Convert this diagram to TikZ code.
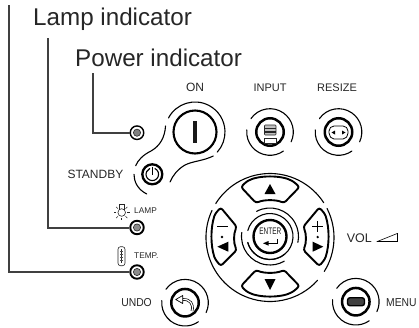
\documentclass[tikz,border=0pt]{standalone}
\usepackage{fontspec}
\setmainfont{Liberation Sans}
\newfontfamily\narrowf{Liberation Sans}[FakeStretch=0.9]
\newfontfamily\enterf{Liberation Sans}[FakeStretch=0.68]
\newcommand\ringarc[5]{\draw[arc1] (#1,#2) ++(#4:#3pt) arc[start angle=#4,end angle=#5,radius=#3pt];}
\newcommand\butarcs[2]{\ringarc{#1}{#2}{23.3}{145}{-25}\ringarc{#1}{#2}{23.3}{175}{305}}
\tikzset{
 x=1pt,y=-1pt,
 lead/.style={draw=black!75,line width=2pt,line join=miter},
 led/.style={circle,draw=black,line width=1.9pt,fill=white,minimum size=13.5pt,inner sep=0pt},
 big/.style={font=\fontsize{24.2}{25}\selectfont,inner sep=0pt,anchor=base west,text=black!85},
 small/.style={font=\fontsize{11.5}{12}\narrowf,inner sep=0pt,text=black!85},
 tiny/.style={font=\fontsize{8.3}{9}\selectfont,inner sep=0pt,text=black!85},
 arc1/.style={draw=black,line width=1.1pt,line cap=round},
 ring/.style={circle,draw=black,line width=2.1pt,inner sep=0pt},
 pad/.style={draw=black,line width=1.9pt,fill=white,rounded corners=2.5pt},
 thin1/.style={draw=black!85,line width=0.6pt},
}
\begin{document}
\begin{tikzpicture}
\useasboundingbox (0,0) rectangle (419,327);
% texts
\node[big] (lamptxt) at (33,25) {Lamp indicator};
\node[big] (powertxt) at (75,66.5) {Power indicator};
\node[small,font=\fontsize{12}{13}\selectfont] (ontxt) at (195,87.5) {ON};
\node[small,font=\fontsize{11}{12}\selectfont] (inputtxt) at (270,87.5) {INPUT};
\node[small,font=\fontsize{11}{12}\selectfont] (resizetxt) at (337,87.5) {RESIZE};
\node[small,anchor=east,font=\fontsize{12}{13}\selectfont] (standbytxt) at (123.5,174) {STANDBY};
\node[tiny,anchor=west] (lamplbl) at (134,210.7) {LAMP};
\node[tiny,anchor=west] (templbl) at (134,256) {TEMP.};
\node[small,anchor=east] (undotxt) at (152,302.7) {UNDO};
\node[small,anchor=west,font=\fontsize{12.5}{13}\selectfont] (voltxt) at (346.7,238.3) {VOL};
\node[small,anchor=west] (menutxt) at (386,302.7) {MENU};
% LEDs
\node[led,line width=1.4pt] (ledp) at (137,132.7) {};
\node[led] (ledl) at (137,227.5) {};
\node[led] (ledt) at (137,272) {};
\foreach \n/\g in {ledp/50,ledl/45,ledt/45}{\fill[black!\g,draw=black!85,line width=0.6pt] (\n.center) circle[radius=3.6pt];}
\coordinate (p0) at (93,73);
\coordinate (l0) at (48,38);
\coordinate (t0) at (9,5);
\draw[lead] (p0) |- (ledp);
\draw[lead] (l0) |- (ledl);
\draw[lead] (t0) |- (ledt);
% lamp icon
\draw[thin1,fill=white] (121.7,212.5) circle[radius=3.8pt];
\draw[thin1] (119.5,209.5) -- (119.5,204.5) -- (124,204.5) -- (124,209.5);
\foreach \a in {0,45,135,180,225,270,315}{\draw[thin1] (121.7,212.5) ++(\a:5.5pt) -- ++(\a:2.4pt);}
% thermometer icon
\draw[thin1,rounded corners=2.5pt] (118,246.7) rectangle (125,265.7);
\draw[thin1] (121.5,249) -- (121.5,263);
\foreach \yy in {251,254,257,260}{\draw[draw=black!70,line width=0.3pt] (120.3,\yy) -- (122.7,\yy);}
% power / standby outline
\node[ring,minimum size=43pt] (onbtn) at (195,132) {};
\node[fill=black!90,minimum width=3.6pt,minimum height=22pt,inner sep=0pt] (onbar) at (195,132) {};
\ringarc{195}{132}{30}{152}{-42}
\draw[arc1] (213.3,156) .. controls (203,161) and (193,161) .. (185,165) .. controls (178,169) and (173,175) .. (170,182);
\draw[arc1] (165.5,126) .. controls (165,137) and (160,146) .. (151,151) .. controls (143,155) and (138,160) .. (135.7,165.7);
\draw[arc1] (134,174.3) .. controls (134,181) and (137,189) .. (146.7,194);
% standby
\node[ring,minimum size=20pt,line width=2.3pt] (stbtn) at (152.3,174.3) {};
\ringarc{152.3}{174.3}{6.3}{65}{-245}
\draw[draw=black,line width=1.1pt] (152.3,166.5) -- (152.3,175);
% input
\node[ring,minimum size=27.5pt,line width=2.5pt] (inbtn) at (270,132) {};
\butarcs{270}{132}
\draw[thin1,fill=black!25,rounded corners=0.8pt] (264.5,125) rectangle (276,135);
\fill[black!85] (264.5,127.5) rectangle (276,129);
\fill[black!85] (264.5,131) rectangle (276,132.5);
\draw[thin1,fill=white] (264.5,138) rectangle (276,143);
% resize
\node[ring,minimum size=27.5pt,line width=2.5pt] (rsbtn) at (338.5,132) {};
\butarcs{338.5}{132}
\draw[draw=black,line width=0.8pt,rounded corners=2pt] (329,129) -- (332,126) -- (345,126) -- (348,129) -- (348,135) -- (345,139) -- (332,139) -- (329,135) -- cycle;
\fill[black] (331.5,132.5) -- (335,130.5) -- (335,134.5) -- cycle;
\fill[black] (345.5,132.5) -- (342,130.5) -- (342,134.5) -- cycle;
% cross pad
\ringarc{270}{237.5}{64}{148}{33}
\ringarc{270}{237.5}{64}{27}{-32}
\ringarc{270}{237.5}{64}{155}{318}
\draw[pad] (241,187) -- (246,182) .. controls (258,175) and (282,175) .. (294,182) -- (299.5,187) -- (284,203) .. controls (276,199.5) and (264,199.5) .. (256,203) -- cycle;
\draw[pad] (241,286) -- (246,291) .. controls (258,298) and (282,298) .. (294,291) -- (299.5,286) -- (284,270) .. controls (276,273.5) and (264,273.5) .. (256,270) -- cycle;
\draw[pad] (220.7,207.5) -- (215,214) .. controls (210.5,228) and (210.5,245) .. (215,259) -- (220.7,266) -- (236.7,250) .. controls (233.5,243) and (233.5,234) .. (236.7,226.7) -- cycle;
\draw[pad] (319.3,207.5) -- (325,214) .. controls (329.5,228) and (329.5,245) .. (325,259) -- (319.3,266) -- (303.3,250) .. controls (306.5,243) and (306.5,234) .. (303.3,226.7) -- cycle;
\fill[black] (270,184) -- (275.5,194) -- (264.5,194) -- cycle;
\fill[black] (270,290) -- (275.5,279) -- (264.5,279) -- cycle;
\fill[black] (217.3,246.7) -- (228.3,241.7) -- (228.3,251.7) -- cycle;
\fill[black] (323.3,246.7) -- (312.7,241.7) -- (312.7,251.7) -- cycle;
\draw[draw=black,line width=1.2pt] (217,226.7) -- (228,226.7);
\draw[draw=black,line width=1.2pt] (312.2,226.7) -- (323.2,226.7) (317.7,221.2) -- (317.7,232.2);
\fill[black] (222,237) circle[radius=1.3pt];
\fill[black] (317.7,237) circle[radius=1.3pt];
% enter
\node[ring,minimum size=33pt,line width=2.4pt] (enbtn) at (270,236.5) {};
\node[inner sep=0pt,font=\fontsize{9.5}{10}\enterf,text=black!90] (entertxt) at (270.3,231) {ENTER};
\ringarc{270}{236.5}{23}{165}{-165}
\ringarc{270}{236.5}{23}{-165}{-50}
\ringarc{270}{236.5}{28.5}{118}{-12}
\ringarc{270}{236.5}{28.5}{172}{300}
\draw[draw=black,line width=0.9pt] (268,243.3) -- (277.7,243.3) -- (277.7,238.5);
\fill[black] (263,243.3) -- (268.5,241) -- (268.5,245.6) -- cycle;
% undo
\node[ring,minimum size=27.5pt,line width=2.5pt] (unbtn) at (185,302.7) {};
\butarcs{185}{302.7}
\draw[draw=black,line width=0.7pt,double=white,double distance=1.2pt] (182.7,299.5) .. controls (190,299) and (194,304) .. (192,311);
\draw[draw=black,line width=0.7pt,fill=white,line join=round] (175.7,299.5) -- (182.7,295.5) -- (182.7,303.5) -- cycle;
% menu
\node[ring,minimum size=27.5pt,line width=2.5pt] (mnbtn) at (355.8,301.7) {};
\butarcs{355.8}{301.7}
\draw[draw=black,line width=1.4pt,fill=black!75,rounded corners=2.5pt] (347.5,297.7) rectangle (364.5,305.7);
% vol triangle
\draw[draw=black,line width=0.6pt] (376.7,241.7) -- (397.7,233.3);
\draw[draw=black,line width=1.3pt] (376.7,241.7) -- (397.7,241.7) -- (397.7,233.3);
\end{tikzpicture}
\end{document}
